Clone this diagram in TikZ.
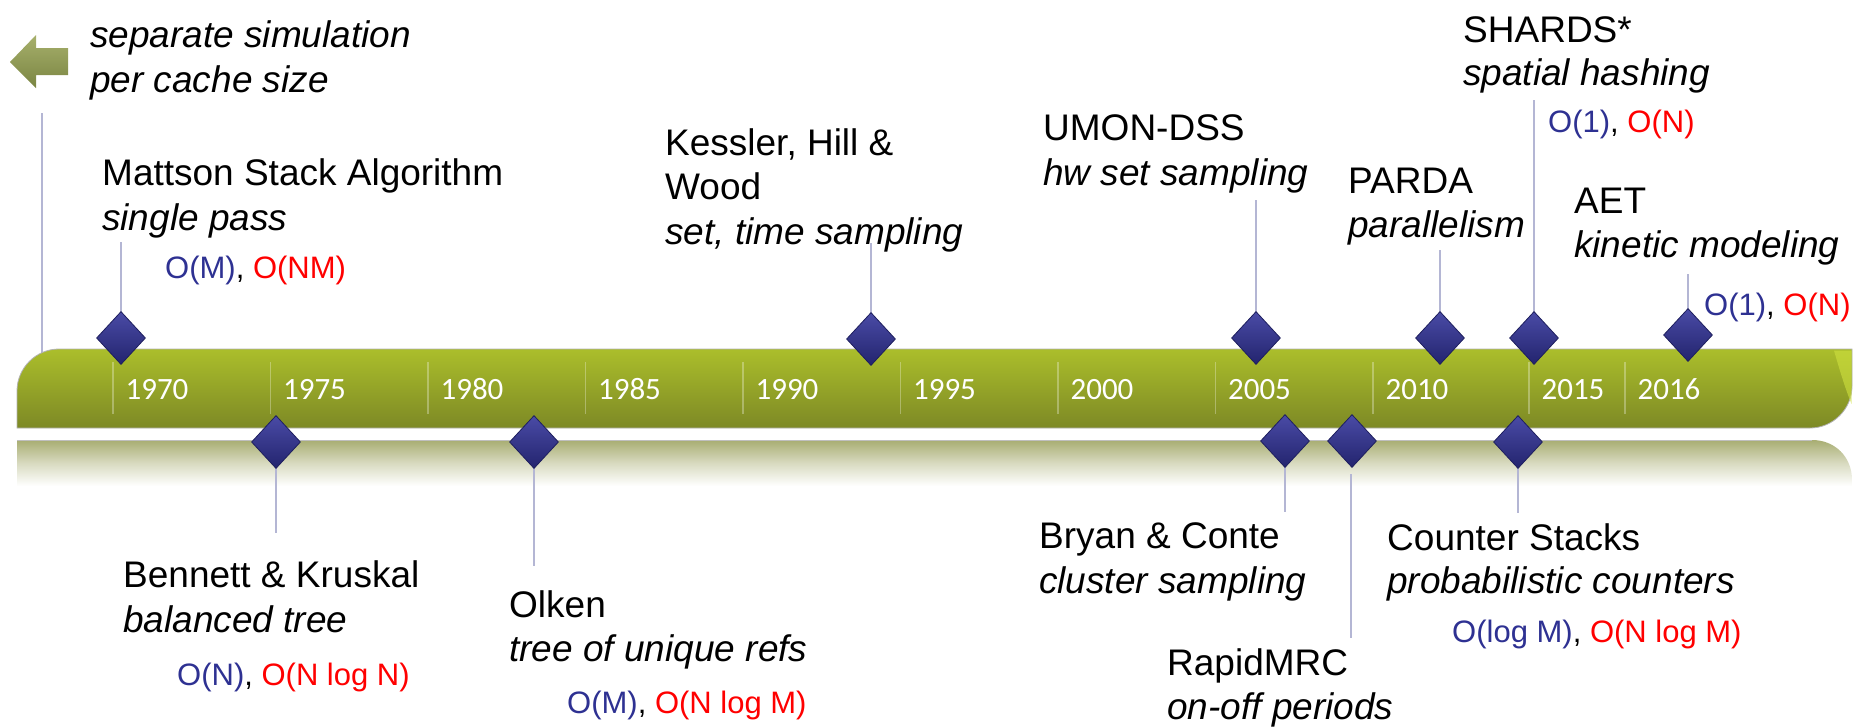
\documentclass[tikz,border=0pt]{standalone}
\usepackage{fontspec}
\setmainfont{Liberation Sans}
\newfontfamily\yearfont{Carlito}
\usetikzlibrary{shapes.geometric}

\definecolor{cxblue}{HTML}{2E3192}
\definecolor{cxred}{HTML}{FF0000}
\definecolor{stemcol}{HTML}{B4B6D4}
\definecolor{barTop}{HTML}{ABBE2B}
\definecolor{barMid}{HTML}{98A727}
\definecolor{barBot}{HTML}{7D8925}
\definecolor{barGlow}{HTML}{CFE13F}
\definecolor{reflTop}{HTML}{A8AD72}
\definecolor{gemTop}{HTML}{4A4BA6}
\definecolor{gemBot}{HTML}{23246E}
\definecolor{gemEdge}{HTML}{1E1F5E}
\definecolor{arrTop}{HTML}{A7B06C}
\definecolor{arrBot}{HTML}{7A8542}

\tikzset{
  ttl/.style={font=\fontsize{37}{44}\selectfont, anchor=base west, inner sep=0pt},
  sub/.style={font=\fontsize{37}{44}\selectfont\itshape, anchor=base west, inner sep=0pt},
  cplx/.style={font=\fontsize{31}{36}\selectfont, anchor=base west, inner sep=0pt},
  yr/.style={font=\yearfont\fontsize{31}{36}\selectfont, text=white, anchor=base, inner sep=0pt},
  stem/.style={draw=stemcol, line width=2.6pt},
  divider/.style={draw=white, draw opacity=0.3, line width=1.2pt},
  gem/.style={shape=diamond, minimum width=49pt, minimum height=53pt, inner sep=0pt,
    top color=gemTop, bottom color=gemBot, draw=gemEdge, line width=0.8pt},
}

\begin{document}
\begin{tikzpicture}[x=1pt, y=-1pt]
\useasboundingbox (0,0) rectangle (1858,726);

% reflection under the bar
\shade[top color=reflTop, bottom color=white, middle color=reflTop!45!white]
  (17,440) -- (1812,440) .. controls (1835,440) and (1852,457) .. (1852,480)
  -- (1852,486) -- (17,486) -- cycle;
\draw[black!25, line width=0.8pt] (17,440) -- (1812,440);

% left stem for the pre-stack era
\coordinate (lTop) at (42,113);
\coordinate (lBot) at (42,358);
\draw[stem] (lTop) -- (lBot);

% timeline bar
\shade[top color=barTop, middle color=barMid, bottom color=barBot, draw=black!30, line width=0.8pt]
  (17,428) -- (17,391) .. controls (17,368) and (36,349) .. (59,349)
  -- (1852,349) -- (1852,386) .. controls (1852,409) and (1833,428) .. (1810,428) -- cycle;
% glint on the right end of the bar
\fill[barGlow, opacity=0.6]
  (1834,350.5) -- (1851.5,350.5) -- (1851.5,404) .. controls (1845,388) and (1839,368) .. cycle;

% year dividers and labels
\foreach \dx/\yy in {113/1970, 270.5/1975, 428/1980, 585.5/1985, 743/1990,
                     900.5/1995, 1058/2000, 1215.5/2005, 1373/2010, 1529/2015, 1625/2016} {
  \coordinate (d\yy a) at (\dx,362);
  \coordinate (d\yy b) at (\dx,414);
  \draw[divider] (d\yy a) -- (d\yy b);
  \node[yr] (y\yy) at (\dx+44,399) {\yy};
}

% left arrow
\shade[top color=arrTop, bottom color=arrBot]
  (10,62) -- (36,35) -- (36,48) -- (68,48) -- (68,75) -- (36,75) -- (36,88) -- cycle;
\node[sub] (sepA) at (90,47) {separate simulation};
\node[sub] (sepB) at (90,92) {per cache size};

% ---------- milestones above the bar ----------
% Mattson
\coordinate (pMat) at (121,338);
\coordinate (eMat) at (121,242);
\draw[stem] (pMat) -- (eMat);
\node[gem] (gMat) at (pMat) {};
\node[ttl] (tMat) at (102,185) {Mattson Stack Algorithm};
\node[sub] (sMat) at (102,230) {single pass};
\node[cplx] (cMat) at (165,278) {\textcolor{cxblue}{O(M)}, \textcolor{cxred}{O(NM)}};

% Kessler, Hill & Wood
\coordinate (pKes) at (871,339);
\coordinate (eKes) at (871,243);
\draw[stem] (pKes) -- (eKes);
\node[gem] (gKes) at (pKes) {};
\node[ttl] (tKesA) at (665,155) {Kessler, Hill \&};
\node[ttl] (tKesB) at (665,199) {Wood};
\node[sub] (sKes) at (665,244) {set, time sampling};

% UMON-DSS
\coordinate (pUmo) at (1256,338);
\coordinate (eUmo) at (1256,200);
\draw[stem] (pUmo) -- (eUmo);
\node[gem] (gUmo) at (pUmo) {};
\node[ttl] (tUmo) at (1043,140) {UMON-DSS};
\node[sub] (sUmo) at (1043,185) {hw set sampling};

% PARDA
\coordinate (pPar) at (1440,338);
\coordinate (ePar) at (1440,250);
\draw[stem] (pPar) -- (ePar);
\node[gem] (gPar) at (pPar) {};
\node[ttl] (tPar) at (1348,193) {PARDA};
\node[sub] (sPar) at (1348,237) {parallelism};

% SHARDS
\coordinate (pSha) at (1534,338);
\coordinate (eSha) at (1534,100);
\draw[stem] (pSha) -- (eSha);
\node[gem] (gSha) at (pSha) {};
\node[ttl] (tSha) at (1463,42) {SHARDS*};
\node[sub] (sSha) at (1463,85) {spatial hashing};
\node[cplx] (cSha) at (1548,132) {\textcolor{cxblue}{O(1)}, \textcolor{cxred}{O(N)}};

% AET
\coordinate (pAet) at (1688,335);
\coordinate (eAet) at (1688,274);
\draw[stem] (pAet) -- (eAet);
\node[gem] (gAet) at (pAet) {};
\node[ttl] (tAet) at (1574,213) {AET};
\node[sub] (sAet) at (1574,257) {kinetic modeling};
\node[cplx] (cAet) at (1704,315) {\textcolor{cxblue}{O(1)}, \textcolor{cxred}{O(N)}};

% ---------- milestones below the bar ----------
% Bennett & Kruskal
\coordinate (pBen) at (276,442);
\coordinate (eBen) at (276,533);
\draw[stem] (pBen) -- (eBen);
\node[gem] (gBen) at (pBen) {};
\node[ttl] (tBen) at (123,587) {Bennett \& Kruskal};
\node[sub] (sBen) at (123,632) {balanced tree};
\node[cplx] (cBen) at (177,685) {\textcolor{cxblue}{O(N)}, \textcolor{cxred}{O(N log N)}};

% Olken
\coordinate (pOlk) at (534,442);
\coordinate (eOlk) at (534,566);
\draw[stem] (pOlk) -- (eOlk);
\node[gem] (gOlk) at (pOlk) {};
\node[ttl] (tOlk) at (509,617) {Olken};
\node[sub] (sOlk) at (509,661) {tree of unique refs};
\node[cplx] (cOlk) at (567,713) {\textcolor{cxblue}{O(M)}, \textcolor{cxred}{O(N log M)}};

% Bryan & Conte
\coordinate (pBry) at (1285,441);
\coordinate (eBry) at (1285,512);
\draw[stem] (pBry) -- (eBry);
\node[gem] (gBry) at (pBry) {};
\node[ttl] (tBry) at (1039,548) {Bryan \& Conte};
\node[sub] (sBry) at (1039,593) {cluster sampling};

% RapidMRC
\coordinate (pRap) at (1352,441);
\coordinate (bRap) at (1351,474);
\coordinate (eRap) at (1351,638);
\draw[stem] (bRap) -- (eRap);
\node[gem] (gRap) at (pRap) {};
\node[ttl] (tRap) at (1167,675) {RapidMRC};
\node[sub] (sRap) at (1167,719) {on-off periods};

% Counter Stacks
\coordinate (pCnt) at (1518,442);
\coordinate (eCnt) at (1518,513);
\draw[stem] (pCnt) -- (eCnt);
\node[gem] (gCnt) at (pCnt) {};
\node[ttl] (tCnt) at (1387,550) {Counter Stacks};
\node[sub] (sCnt) at (1387,593) {probabilistic counters};
\node[cplx] (cCnt) at (1452,642) {\textcolor{cxblue}{O(log M)}, \textcolor{cxred}{O(N log M)}};
\end{tikzpicture}
\end{document}
